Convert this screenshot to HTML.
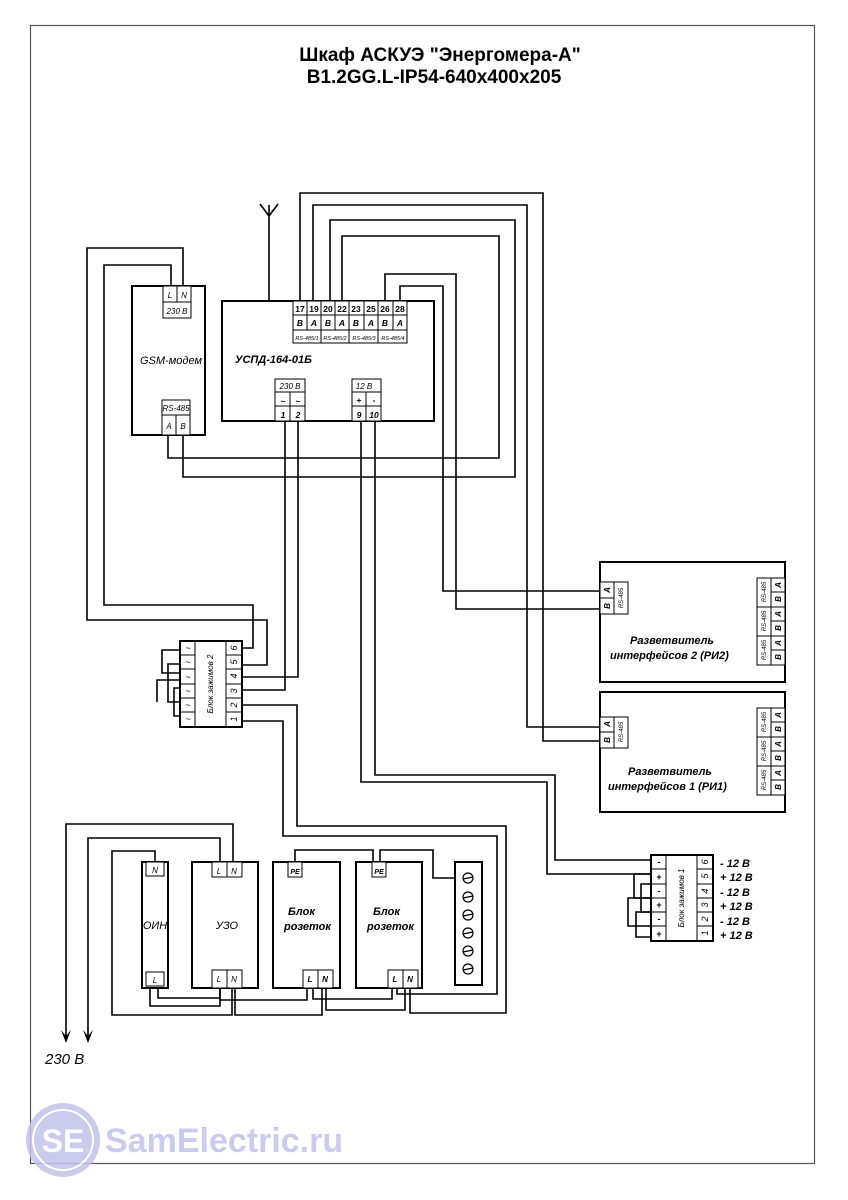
<!DOCTYPE html>
<html><head><meta charset="utf-8"><style>
html,body{margin:0;padding:0;background:#fff;}
svg{display:block;}
text{font-family:"Liberation Sans",Arial,sans-serif;}
</style></head><body>
<svg width="848" height="1200" viewBox="0 0 848 1200" xmlns="http://www.w3.org/2000/svg">
<rect x="30.5" y="25.5" width="784" height="1138" fill="none" stroke="#555" stroke-width="1.2"/>
<text x="440" y="61" font-size="19" font-weight="bold" text-anchor="middle">Шкаф АСКУЭ "Энергомера-А"</text>
<text x="434" y="83" font-size="19" font-weight="bold" text-anchor="middle">В1.2GG.L-IP54-640x400x205</text>

<g fill="none" stroke="#000" stroke-width="1.6">
<!-- antenna -->
<path d="M269 301V205M260 204L269 216L278 204"/>
<!-- RS wires -->
<path d="M300 301V193H543V741H600"/>
<path d="M313 301V205H527V727H600"/>
<path d="M330 301V220H515V477H183V430"/>
<path d="M342 301V236H499V458H168V430"/>
<path d="M385 301V274H456V609H600"/>
<path d="M400 301V286H443V591H600"/>
<!-- GSM power -->
<path d="M183 286V248H87V620H267V665H242"/>
<path d="M171 286V265H104V605H253V648H242"/>
<!-- USPD 230 -->
<path d="M285 421V690H242"/>
<path d="M298 421V677H242"/>
<!-- 12V -->
<path d="M361 421V782H547V874H651"/>
<path d="M375 421V775H555V860H651"/>
<!-- block2 pins 1,2 -->
<path d="M242 705H297V826H506V1013H410V988"/>
<path d="M242 721H283V836H497V994H397V988"/>
<!-- block2 jumpers -->
<path d="M180 650H162V673H180"/><path d="M180 664H168V702H180"/><path d="M180 680H157V702"/><path d="M180 688H174V716H180"/>
<!-- block1 jumpers -->
<path d="M651 874H634V898H651"/><path d="M651 884H641V912H651"/><path d="M651 898H628V926H651"/><path d="M651 912H636V937H651"/>
<!-- 230 input -->
<path d="M66 1040V824H233V862"/>
<path d="M88 1040V838H220V862"/>
<path d="M155 862V851H112V1015H232V988"/>
<path d="M150 988V1006H220V988"/>
<path d="M158 988V998H220"/>
<path d="M220 988V1000H307V988"/>
<path d="M235 988V1015H322V988"/>
<path d="M313 988V999H392V988"/>
<path d="M326 988V1010H405V988"/>
<path d="M295 862V850H373V862"/>
<path d="M380 862V850H433V878H455"/>
</g>
<!-- arrows -->
<g fill="#000"><path d="M61 1030L66 1043L71 1030L66 1036Z"/><path d="M83 1030L88 1043L93 1030L88 1036Z"/></g>
<text x="45" y="1064" font-size="15" font-style="italic">230 В</text>

<g fill="#fff" stroke="#000">
<!-- GSM -->
<rect x="132" y="286" width="73" height="149" stroke-width="2"/>
<rect x="163" y="286" width="28" height="16"/><line x1="177" y1="286" x2="177" y2="302" stroke="#000"/>
<rect x="163" y="302" width="28" height="16"/>
<rect x="162" y="400" width="28" height="15"/><rect x="162" y="415" width="14" height="20"/><rect x="176" y="415" width="14" height="20"/>
<!-- USPD -->
<rect x="222" y="301" width="212" height="120" stroke-width="2"/>
<rect x="293" y="301" width="114" height="42"/>
<rect x="275" y="379" width="30" height="42"/><rect x="352" y="379" width="29" height="42"/>
<!-- block2 -->
<rect x="180" y="641" width="62" height="86" stroke-width="2"/>
<!-- block1 -->
<rect x="651" y="855" width="62" height="86" stroke-width="2"/>
<!-- RI2 / RI1 -->
<rect x="600" y="562" width="185" height="120" stroke-width="2"/>
<rect x="600" y="582" width="28" height="32"/>
<rect x="757" y="578" width="28" height="87"/>
<rect x="600" y="692" width="185" height="120" stroke-width="2"/>
<rect x="600" y="717" width="28" height="31"/>
<rect x="757" y="708" width="28" height="87"/>
<!-- bottom -->
<rect x="142" y="862" width="26" height="126" stroke-width="2"/>
<rect x="146" y="862" width="18" height="14"/><rect x="146" y="972" width="18" height="14"/>
<rect x="192" y="862" width="66" height="126" stroke-width="2"/>
<rect x="212" y="862" width="30" height="15"/><rect x="212" y="970" width="30" height="18"/>
<rect x="273" y="862" width="67" height="126" stroke-width="2"/>
<rect x="288" y="862" width="14" height="15"/><rect x="303" y="970" width="30" height="18"/>
<rect x="356" y="862" width="66" height="126" stroke-width="2"/>
<rect x="372" y="862" width="14" height="15"/><rect x="388" y="970" width="30" height="18"/>
<rect x="455" y="862" width="27" height="123" stroke-width="2"/>
</g>
<g stroke="#000" stroke-width="1" fill="none">
<!-- USPD grid -->
<path d="M293 315H407M293 330H407M307 301V330M321 301V343M335 301V330M349 301V343M364 301V330M378 301V343M393 301V330"/>
<path d="M275 392H305M275 406H305M290 392V421M352 392H381M352 406H381M366 392V421"/>
<path d="M177 286V302M176 415V435"/>
<!-- block2 grid -->
<path d="M195 641V727M226 641V727"/>
<path d="M180 655H195M180 669H195M180 684H195M180 698H195M180 712H195M226 655H242M226 669H242M226 684H242M226 698H242M226 712H242"/>
<path d="M666 855V941M697 855V941"/>
<path d="M651 869H666M651 884H666M651 898H666M651 912H666M651 926H666M697 869H713M697 884H713M697 898H713M697 912H713M697 926H713"/>
<!-- RI terminals -->
<path d="M614 582V614M600 598H614M614 717V748M600 732H614"/>
<path d="M771 578V665M757 607H785M757 636H785M771 592H785M771 621H785M771 650H785"/>
<path d="M771 708V795M757 737H785M757 766H785M771 722H785M771 751H785M771 780H785"/>
<path d="M227 862V877M227 970V988M318 970V988M403 970V988"/>
</g>
<!-- circles in strip -->
<g stroke="#000" fill="none" stroke-width="1.2">
<circle cx="468" cy="878" r="5"/><circle cx="468" cy="897" r="5"/><circle cx="468" cy="915" r="5"/><circle cx="468" cy="933" r="5"/><circle cx="468" cy="951" r="5"/><circle cx="468" cy="969" r="5"/>
<path d="M463 879L473 877M463 898L473 896M463 916L473 914M463 934L473 932M463 952L473 950M463 970L473 968"/>
</g>

<g font-style="italic" font-size="8">
<text x="170" y="298" text-anchor="middle">L</text><text x="184" y="298" text-anchor="middle">N</text>
<text x="177" y="314" text-anchor="middle">230 В</text>
<text x="176" y="411" text-anchor="middle">RS-485</text>
<text x="169" y="429" text-anchor="middle">A</text><text x="183" y="429" text-anchor="middle">B</text>
<text x="140" y="364" font-size="11">GSM-модем</text>
<text x="235" y="363" font-size="11" font-weight="bold">УСПД-164-01Б</text>
<g font-weight="bold" font-size="8.5" text-anchor="middle" font-style="normal">
<text x="300" y="312">17</text><text x="314" y="312">19</text><text x="328" y="312">20</text><text x="342" y="312">22</text><text x="356" y="312">23</text><text x="371" y="312">25</text><text x="385" y="312">26</text><text x="400" y="312">28</text>
<text x="300" y="326" font-style="italic">B</text><text x="314" y="326" font-style="italic">A</text><text x="328" y="326" font-style="italic">B</text><text x="342" y="326" font-style="italic">A</text><text x="356" y="326" font-style="italic">B</text><text x="371" y="326" font-style="italic">A</text><text x="385" y="326" font-style="italic">B</text><text x="400" y="326" font-style="italic">A</text>
<text x="283" y="418" font-style="italic">1</text><text x="298" y="418" font-style="italic">2</text><text x="359" y="418" font-style="italic">9</text><text x="374" y="418" font-style="italic">10</text>
<text x="283" y="404">~</text><text x="298" y="404">~</text><text x="359" y="403">+</text><text x="374" y="403">-</text>
</g>
<g font-size="5.5" text-anchor="middle"><text x="307" y="340">RS-485/1</text><text x="335" y="340">RS-485/2</text><text x="364" y="340">RS-485/3</text><text x="393" y="340">RS-485/4</text></g>
<text x="290" y="389" text-anchor="middle">230 В</text><text x="364" y="389" text-anchor="middle">12 В</text>
</g>

<!-- block 2 labels -->
<g font-size="8" font-style="italic" text-anchor="middle">
<g font-size="9"><text transform="translate(234,648) rotate(-90)" y="3">6</text><text transform="translate(234,662) rotate(-90)" y="3">5</text><text transform="translate(234,676) rotate(-90)" y="3">4</text><text transform="translate(234,691) rotate(-90)" y="3">3</text><text transform="translate(234,705) rotate(-90)" y="3">2</text><text transform="translate(234,719) rotate(-90)" y="3">1</text></g>
<text transform="translate(210,684) rotate(-90)" y="3">Блок зажимов 2</text>
<g font-size="9"><text x="188" y="651">~</text><text x="188" y="665">~</text><text x="188" y="680">~</text><text x="188" y="694">~</text><text x="188" y="708">~</text><text x="188" y="722">~</text></g>
<g font-size="9"><text transform="translate(705,862) rotate(-90)" y="3">6</text><text transform="translate(705,876) rotate(-90)" y="3">5</text><text transform="translate(705,891) rotate(-90)" y="3">4</text><text transform="translate(705,905) rotate(-90)" y="3">3</text><text transform="translate(705,919) rotate(-90)" y="3">2</text><text transform="translate(705,933) rotate(-90)" y="3">1</text></g>
<text transform="translate(681,898) rotate(-90)" y="3">Блок зажимов 1</text>
<g font-size="9" font-weight="bold" font-style="normal"><text x="659" y="865">-</text><text x="659" y="880">+</text><text x="659" y="894">-</text><text x="659" y="908">+</text><text x="659" y="922">-</text><text x="659" y="937">+</text></g>
</g>
<g font-size="11" font-weight="bold" font-style="italic">
<text x="720" y="867">- 12 В</text><text x="720" y="881">+ 12 В</text><text x="720" y="896">- 12 В</text><text x="720" y="910">+ 12 В</text><text x="720" y="925">- 12 В</text><text x="720" y="939">+ 12 В</text>
</g>

<!-- RI labels -->
<g font-size="8" font-style="italic" text-anchor="middle" font-weight="bold">
<text transform="translate(607,590) rotate(-90)" y="3">A</text><text transform="translate(607,606) rotate(-90)" y="3">B</text>
<text transform="translate(607,724) rotate(-90)" y="3">A</text><text transform="translate(607,740) rotate(-90)" y="3">B</text>
<text transform="translate(778,585) rotate(-90)" y="3">A</text><text transform="translate(778,599) rotate(-90)" y="3">B</text><text transform="translate(778,614) rotate(-90)" y="3">A</text><text transform="translate(778,628) rotate(-90)" y="3">B</text><text transform="translate(778,643) rotate(-90)" y="3">A</text><text transform="translate(778,657) rotate(-90)" y="3">B</text>
<text transform="translate(778,715) rotate(-90)" y="3">A</text><text transform="translate(778,729) rotate(-90)" y="3">B</text><text transform="translate(778,744) rotate(-90)" y="3">A</text><text transform="translate(778,758) rotate(-90)" y="3">B</text><text transform="translate(778,773) rotate(-90)" y="3">A</text><text transform="translate(778,787) rotate(-90)" y="3">B</text>
</g>
<g font-size="6" font-style="italic" text-anchor="middle">
<text transform="translate(621,598) rotate(-90)" y="2">RS-485</text><text transform="translate(621,732) rotate(-90)" y="2">RS-485</text>
<text transform="translate(764,592) rotate(-90)" y="2">RS-485</text><text transform="translate(764,621) rotate(-90)" y="2">RS-485</text><text transform="translate(764,650) rotate(-90)" y="2">RS-485</text>
<text transform="translate(764,722) rotate(-90)" y="2">RS-485</text><text transform="translate(764,751) rotate(-90)" y="2">RS-485</text><text transform="translate(764,780) rotate(-90)" y="2">RS-485</text>
</g>
<g font-size="11" font-weight="bold" font-style="italic">
<text x="630" y="644">Разветвитель</text><text x="610" y="659">интерфейсов  2 (РИ2)</text>
<text x="628" y="775">Разветвитель</text><text x="608" y="790">интерфейсов  1 (РИ1)</text>
</g>

<!-- bottom labels -->
<g font-size="8" font-style="italic" text-anchor="middle">
<text x="155" y="873">N</text><text x="155" y="983">L</text>
<text x="219" y="874">L</text><text x="234" y="874">N</text>
<text x="219" y="982">L</text><text x="234" y="982">N</text>
<text x="310" y="982" font-weight="bold">L</text><text x="325" y="982" font-weight="bold">N</text>
<text x="395" y="982" font-weight="bold">L</text><text x="410" y="982" font-weight="bold">N</text>
<text x="295" y="874" font-weight="bold" font-size="7">PE</text><text x="379" y="874" font-weight="bold" font-size="7">PE</text>
</g>
<g font-size="11" font-style="italic">
<text x="155" y="929" text-anchor="middle">ОИН</text>
<text x="227" y="929" text-anchor="middle">УЗО</text>
<text x="288" y="915" font-weight="bold">Блок</text><text x="284" y="930" font-weight="bold">розеток</text>
<text x="373" y="915" font-weight="bold">Блок</text><text x="367" y="930" font-weight="bold">розеток</text>
</g>

<!-- watermark -->
<g opacity="0.85">
<circle cx="63" cy="1140" r="37" fill="#c3c3ec"/>
<circle cx="63" cy="1140" r="30" fill="none" stroke="#fff" stroke-width="2"/>
<text x="63" y="1152" font-size="32" font-weight="bold" fill="#fff" text-anchor="middle">SE</text>
<text x="105" y="1152" font-size="34" font-weight="bold" fill="#c3c3ec">SamElectric.ru</text>
</g>
</svg>
</body></html>
